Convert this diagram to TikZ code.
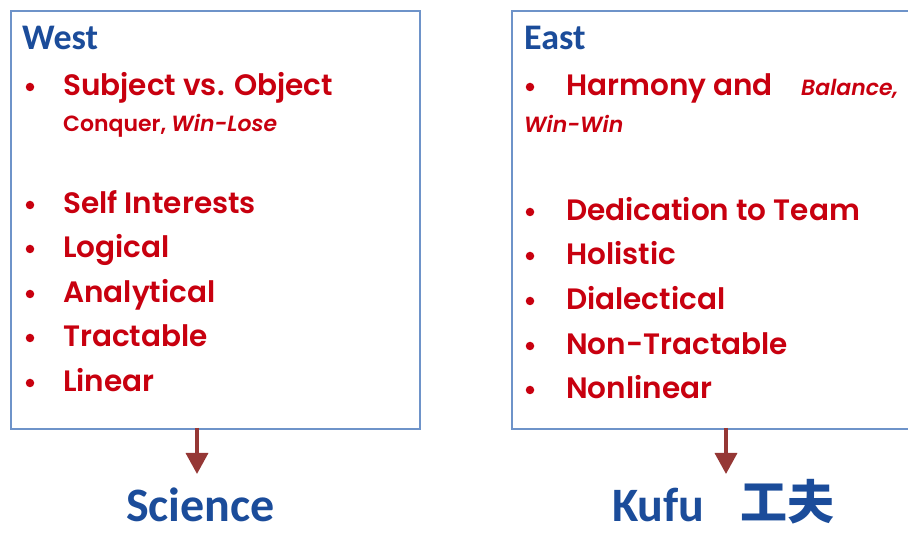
\documentclass[tikz,border=0pt]{standalone}
\usepackage{fontspec}
\usetikzlibrary{arrows.meta}
\newfontfamily\redf{Poppins}[UprightFont=* SemiBold, ItalicFont=* SemiBold Italic, BoldFont=* SemiBold, BoldItalicFont=* SemiBold Italic]
\newfontfamily\bluef{Carlito}
\newfontfamily\cjkf{Noto Sans CJK SC}
\definecolor{txtred}{HTML}{C8000F}
\definecolor{txtblue}{HTML}{1B4C9A}
\definecolor{boxblue}{HTML}{6E93C9}
\definecolor{arrred}{HTML}{953735}
\tikzset{
  panel/.style={draw=boxblue, line width=1.6pt, fill=white, inner sep=0, anchor=north west},
  item/.style={anchor=base west, inner sep=0, text=txtred, font=\redf\fontsize{29.5}{29.5}\selectfont},
  subitem/.style={anchor=base west, inner sep=0, text=txtred, font=\redf\fontsize{22}{22}\selectfont},
  head/.style={anchor=base west, inner sep=0, text=txtblue, font=\bluef\bfseries\fontsize{36}{36}\selectfont},
  big/.style={anchor=base west, inner sep=0, text depth=0pt, text=txtblue, font=\bluef\bfseries\fontsize{48}{48}\selectfont},
  dot/.style={circle, fill=txtred, inner sep=0, minimum size=8.5pt},
  arr/.style={draw=arrred, line width=3.5pt, -{Triangle[width=22pt,length=21pt]}}
}
\begin{document}
\begin{tikzpicture}[x=1pt,y=-1pt]
\useasboundingbox (0,0) rectangle (908,534);
\node[panel, minimum width=409pt, minimum height=418pt] (lbox) at (10,10) {};
\node[panel, minimum width=430pt, minimum height=418pt] (rbox) at (511,10) {};
% left
\node[head] (west) at (22,50) {West};
\node[dot] (lb1) at (30,87) {};
\node[item] (l1) at (63,96) {Subject vs. Object};
\node[subitem] (l1s) at (63,132) {Conquer, \itshape Win-Lose};
\node[dot] (lb2) at (30,205) {};
\node[item] (l2) at (63,214) {Self Interests};
\node[dot] (lb3) at (30,249) {};
\node[item] (l3) at (63,258) {Logical};
\node[dot] (lb4) at (30,294) {};
\node[item] (l4) at (63,303) {Analytical};
\node[dot] (lb5) at (30,338) {};
\node[item] (l5) at (63,347) {Tractable};
\node[dot] (lb6) at (30,383) {};
\node[item] (l6) at (63,392) {Linear};
% right
\node[head] (east) at (524,50) {East};
\node[dot] (rb1) at (530,87) {};
\node[item] (r1) at (566,96) {Harmony and};
\node[subitem, font=\redf\itshape\fontsize{22}{22}\selectfont] (r1b) at (801,96) {Balance,};
\node[subitem, font=\redf\itshape\fontsize{22}{22}\selectfont] (r1s) at (524,133) {Win-Win};
\node[dot] (rb2) at (530,212) {};
\node[item] (r2) at (566,221) {Dedication to Team};
\node[dot] (rb3) at (530,256) {};
\node[item] (r3) at (566,265) {Holistic};
\node[dot] (rb4) at (530,301) {};
\node[item] (r4) at (566,310) {Dialectical};
\node[dot] (rb5) at (530,346) {};
\node[item] (r5) at (566,355) {Non-Tractable};
\node[dot] (rb6) at (530,390) {};
\node[item] (r6) at (566,399) {Nonlinear};
% bottom
\node[big] (sci) at (126,521) {Science};
\node[big] (kufu) at (612,521) {Kufu};
\node[anchor=base west, inner sep=0, text depth=0pt, text=txtblue, font=\cjkf\bfseries\fontsize{47}{47}\selectfont] (gf) at (740,519) {工夫};
\coordinate (la) at (197,428);
\coordinate (lt) at (197,474);
\coordinate (ra) at (726,428);
\coordinate (rt) at (726,474);
\draw[arr] (la) -- (lt);
\draw[arr] (ra) -- (rt);
\end{tikzpicture}
\end{document}
